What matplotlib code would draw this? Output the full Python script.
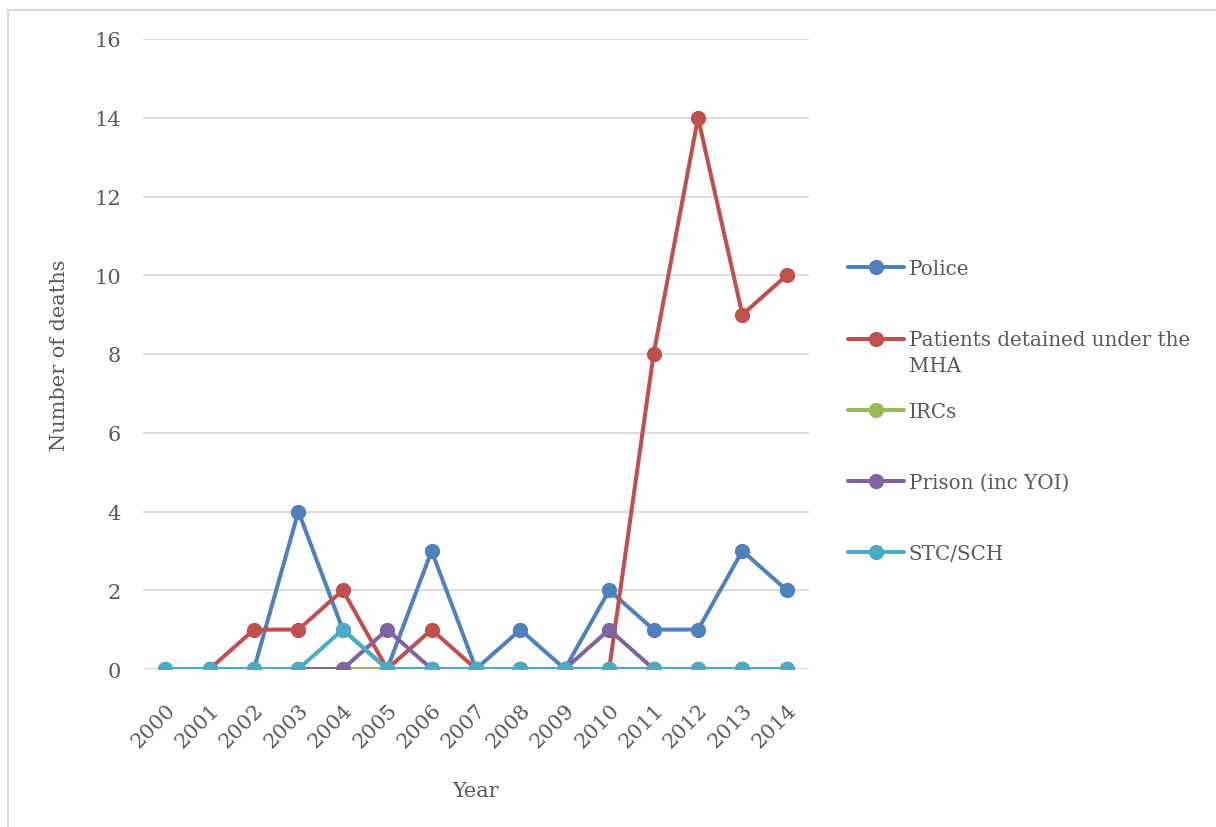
import numpy as np
import matplotlib
matplotlib.use("Agg")
import matplotlib.pyplot as plt
from matplotlib.lines import Line2D

nan = np.nan
years = [str(y) for y in range(2000, 2015)]
police = [0, 0, 0, 4, 1, 0, 3, 0, 1, 0, 2, 1, 1, 3, 2]
patients = [nan, 0, 1, 1, 2, 0, 1, 0, 0, 0, 0, 8, 14, 9, 10]
ircs = [nan, nan, nan, nan, 0, 0, 0, 0, 0, 0, 0, 0, 0, 0, 0]
prison = [nan, nan, nan, 0, 0, 1, 0, 0, 0, 0, 1, 0, 0, 0, 0]
stc = [0, 0, 0, 0, 1, 0, 0, 0, 0, 0, 0, 0, 0, 0, 0]

series = [
    ("Police", police, "#4F81BD"),
    ("Patients detained under the", patients, "#C0504D"),
    ("IRCs", ircs, "#9BBB59"),
    ("Prison (inc YOI)", prison, "#8064A2"),
    ("STC/SCH", stc, "#4BACC6"),
]

plt.rcParams['font.family'] = ['DejaVu Serif']
grey = "#595959"
fs = 15
lfs = 14.3

fig = plt.figure(figsize=(12.16, 8.28), dpi=100)
ax = fig.add_axes([143 / 1216, 1 - 670 / 828, (809 - 143) / 1216, (670 - 40) / 828])

x = np.arange(len(years))
for name, vals, col in series:
    ax.plot(x, vals, color=col, lw=2.9, marker='o', markersize=10,
            label=name, solid_capstyle='round')

ax.set_xlim(-0.5, len(years) - 0.5)
ax.set_ylim(0, 16)
ax.set_yticks(range(0, 17, 2))
ax.set_xticks(x)
ax.set_xticklabels(years, rotation=45, ha='right', rotation_mode='anchor')
ax.tick_params(length=0, labelsize=fs, labelcolor=grey)
ax.tick_params(axis='y', pad=16)
ax.tick_params(axis='x', pad=22)
ax.grid(axis='y', color='#d9d9d9', lw=1.3)
ax.set_axisbelow(True)
for s in ax.spines.values():
    s.set_visible(False)

ax.set_xlabel("Year", fontsize=fs, color=grey, labelpad=22)
ax.set_ylabel("Number of deaths", fontsize=fs, color=grey, labelpad=18)

leg = ax.legend(loc='center left', bbox_to_anchor=(848 / 1216, 1 - 412 / 828),
                bbox_transform=fig.transFigure,
                frameon=False, fontsize=lfs, labelspacing=2.62,
                handlelength=2.8, handletextpad=0.25, borderpad=0,
                borderaxespad=0, labelcolor=grey)
ax.annotate("MHA", xy=(0, 0), xycoords=leg.get_texts()[1],
            xytext=(0, -5), textcoords='offset points',
            va='top', ha='left', fontsize=lfs, color=grey,
            zorder=10, annotation_clip=False, clip_on=False)

# light frame on the top and left edges
fig.add_artist(Line2D([8 / 1216, 8 / 1216], [0, 1 - 11 / 828],
                      transform=fig.transFigure, color='#d9d9d9', lw=1.5))
fig.add_artist(Line2D([8 / 1216, 1], [1 - 11 / 828, 1 - 11 / 828],
                      transform=fig.transFigure, color='#d9d9d9', lw=1.5))

fig.savefig("out.png", dpi=100)
